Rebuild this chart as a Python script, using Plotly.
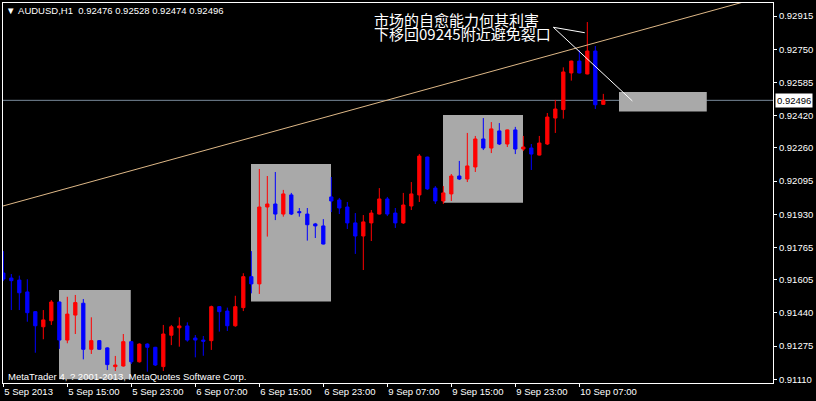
import plotly.graph_objects as go

# ---- data (AUDUSD H1) ----
open_ = [0.91638, 0.91613, 0.91603, 0.91544, 0.91446, 0.91371, 0.91401, 0.91494, 0.91305, 0.91429,
         0.91488, 0.91259, 0.91302, 0.91266, 0.91173, 0.91176, 0.91297, 0.91197, 0.91285, 0.91269,
         0.91173, 0.91329, 0.91366, 0.91375, 0.91315, 0.91305, 0.91302, 0.91471, 0.91449, 0.91376,
         0.91466, 0.91620, 0.91584, 0.91966, 0.91981, 0.91931, 0.92026, 0.91943, 0.91931, 0.91882,
         0.91872, 0.92016, 0.92001, 0.91966, 0.91887, 0.91822, 0.91887, 0.91931, 0.92006, 0.91936,
         0.91887, 0.91971, 0.92026, 0.92214, 0.92060, 0.91996, 0.92031, 0.92120, 0.92105, 0.92165,
         0.92304, 0.92259, 0.92344, 0.92279, 0.92349, 0.92254, 0.92259, 0.92224, 0.92279, 0.92408,
         0.92450, 0.92632, 0.92691, 0.92627, 0.92741, 0.92476]
high = [0.91747, 0.91633, 0.91625, 0.91607, 0.91449, 0.91454, 0.91504, 0.91496, 0.91520, 0.91529,
        0.91509, 0.91418, 0.91305, 0.91269, 0.91226, 0.91335, 0.91299, 0.91289, 0.91289, 0.91271,
        0.91380, 0.91380, 0.91418, 0.91393, 0.91330, 0.91325, 0.91476, 0.91473, 0.91466, 0.91525,
        0.91637, 0.91747, 0.92155, 0.92120, 0.92140, 0.92051, 0.92036, 0.91961, 0.91961, 0.91887,
        0.91906, 0.92115, 0.92011, 0.91991, 0.91936, 0.91926, 0.91951, 0.92060, 0.92016, 0.91961,
        0.92036, 0.92090, 0.92229, 0.92216, 0.92070, 0.92070, 0.92130, 0.92195, 0.92334, 0.92319,
        0.92408, 0.92388, 0.92383, 0.92351, 0.92364, 0.92319, 0.92279, 0.92319, 0.92433, 0.92498,
        0.92660, 0.92693, 0.92746, 0.92885, 0.92766, 0.92528]
low = [0.91598, 0.91454, 0.91454, 0.91396, 0.91242, 0.91309, 0.91380, 0.91261, 0.91289, 0.91335,
       0.91209, 0.91236, 0.91257, 0.91156, 0.91151, 0.91173, 0.91186, 0.91193, 0.91148, 0.91176,
       0.91151, 0.91280, 0.91272, 0.91297, 0.91219, 0.91227, 0.91256, 0.91347, 0.91350, 0.91371,
       0.91449, 0.91537, 0.91534, 0.91819, 0.91901, 0.91918, 0.91926, 0.91918, 0.91799, 0.91812,
       0.91780, 0.91941, 0.91931, 0.91857, 0.91733, 0.91653, 0.91797, 0.91929, 0.91921, 0.91862,
       0.91882, 0.91951, 0.91991, 0.92051, 0.91981, 0.91981, 0.91996, 0.92100, 0.92090, 0.92140,
       0.92249, 0.92234, 0.92274, 0.92264, 0.92229, 0.92244, 0.92150, 0.92222, 0.92274, 0.92334,
       0.92405, 0.92594, 0.92630, 0.92625, 0.92453, 0.92474]
close = [0.91608, 0.91600, 0.91540, 0.91441, 0.91376, 0.91405, 0.91494, 0.91305, 0.91434, 0.91491,
         0.91259, 0.91302, 0.91259, 0.91183, 0.91181, 0.91297, 0.91197, 0.91285, 0.91269, 0.91181,
         0.91335, 0.91371, 0.91375, 0.91305, 0.91305, 0.91299, 0.91471, 0.91446, 0.91376, 0.91471,
         0.91620, 0.91584, 0.91966, 0.91981, 0.91931, 0.92031, 0.91931, 0.91938, 0.91878, 0.91872,
         0.91782, 0.91996, 0.91961, 0.91887, 0.91822, 0.91892, 0.91936, 0.92006, 0.91931, 0.91887,
         0.91976, 0.92031, 0.92219, 0.92056, 0.91996, 0.92036, 0.92120, 0.92105, 0.92170, 0.92304,
         0.92259, 0.92354, 0.92279, 0.92349, 0.92254, 0.92264, 0.92229, 0.92284, 0.92413, 0.92453,
         0.92637, 0.92691, 0.92632, 0.92741, 0.92474, 0.92496]
bars = list(range(len(open_)))

x_tick_bars = [0, 8, 16, 24, 32, 40, 48, 56, 64, 72]
x_tick_labels = ["5 Sep 2013", "5 Sep 15:00", "5 Sep 23:00", "6 Sep 07:00", "6 Sep 15:00",
                 "6 Sep 23:00", "9 Sep 07:00", "9 Sep 15:00", "9 Sep 23:00", "10 Sep 07:00"]
y_tick_vals = [0.92915, 0.92750, 0.92585, 0.92420, 0.92260, 0.92095, 0.91930, 0.91765,
               0.91605, 0.91440, 0.91275, 0.91110]
y_tick_labels = ["%.5f" % v for v in y_tick_vals]

bid_price = close[-1]
note_lines = ["市场的自愈能力何其利害", "下移回09245附近避免裂口"]

# drawing objects (bar index, price)
gray_boxes = [(6.96, 15.93, 0.91554, 0.91110), (30.96, 40.96, 0.92180, 0.91496),
              (54.96, 64.96, 0.92423, 0.91987), (76.96, 87.93, 0.92537, 0.92440)]
trend_pts = [(-0.04, 0.91971), (96.21, 0.93025)]

W, H = 816, 401
ML, MR, MT, MB = 3, 43, 3, 18
PW, PH = W - ML - MR, H - MT - MB
FONT = "Liberation Sans, Arial, sans-serif"


def px(x):
    return (x - ML) / PW


def py(y):
    return (H - MB - y) / PH


fig = go.Figure()
fig.add_trace(go.Candlestick(
    x=bars, open=open_, high=high, low=low, close=close,
    increasing=dict(line=dict(color="#FF0000", width=1), fillcolor="#FF0000"),
    decreasing=dict(line=dict(color="#0000FF", width=1), fillcolor="#0000FF"),
    whiskerwidth=0, showlegend=False, hoverinfo="skip"))

shapes = []
for x0, x1, y0, y1 in gray_boxes:
    shapes.append(dict(type="rect", xref="x", yref="y", x0=x0, x1=x1, y0=y0, y1=y1,
                       fillcolor="#A9A9A9", line=dict(width=0), layer="below"))
shapes.append(dict(type="line", xref="paper", yref="y", x0=0, x1=1, y0=bid_price, y1=bid_price,
                   line=dict(color="#778899", width=1), layer="below"))
shapes.append(dict(type="line", xref="x", yref="y", x0=trend_pts[0][0], y0=trend_pts[0][1],
                   x1=trend_pts[1][0], y1=trend_pts[1][1], line=dict(color="#DEB887", width=1)))
shapes.append(dict(type="line", xref="x", yref="y", x0=68.75, y0=0.92859, x1=72.68, y1=0.92832,
                   line=dict(color="white", width=1)))
shapes.append(dict(type="line", xref="x", yref="y", x0=68.75, y0=0.92859, x1=78.63, y1=0.92493,
                   line=dict(color="white", width=1)))

annotations = [
    dict(xref="paper", yref="paper", x=px(4), y=py(11), xanchor="left", yanchor="middle",
         text="▼\u00a0AUDUSD,H1\u00a0\u00a0" + " ".join("%.5f" % v for v in
                                                        (open_[-1], high[-1], low[-1], close[-1])),
         showarrow=False, font=dict(family=FONT, size=9.5, color="white")),
    dict(xref="paper", yref="paper", x=px(6), y=py(376), xanchor="left", yanchor="middle",
         text="MetaTrader 4, ? 2001-2013, MetaQuotes Software Corp.",
         showarrow=False, font=dict(family=FONT, size=9.5, color="white")),
    dict(xref="paper", yref="paper", x=px(372), y=py(19), xanchor="left", yanchor="middle",
         text=note_lines[0], showarrow=False,
         font=dict(family="Noto Sans CJK SC", size=15, color="white")),
    dict(xref="paper", yref="paper", x=px(372), y=py(33.5), xanchor="left", yanchor="middle",
         text=note_lines[1], showarrow=False,
         font=dict(family="Noto Sans CJK SC", size=15, color="white")),
    dict(xref="paper", yref="y", x=1, y=bid_price, xanchor="left", yanchor="middle", xshift=2,
         text="%.5f" % bid_price, showarrow=False, bgcolor="white", borderpad=1,
         font=dict(family=FONT, size=9.5, color="black")),
]

fig.update_layout(
    width=W, height=H, margin=dict(l=ML, r=MR, t=MT, b=MB, pad=0, autoexpand=False),
    paper_bgcolor="black", plot_bgcolor="black", showlegend=False, hovermode=False,
    boxgap=0.42, shapes=shapes, annotations=annotations,
)
fig.update_xaxes(range=[-0.04, 96.21], tickmode="array", tickvals=x_tick_bars,
                 ticktext=x_tick_labels, ticks="outside", ticklen=3, tickcolor="white",
                 ticklabelposition="outside right",
                 showline=True, linecolor="white", linewidth=1, mirror=True,
                 showgrid=False, zeroline=False, rangeslider_visible=False,
                 tickfont=dict(family=FONT, size=9.5, color="white"))
fig.update_yaxes(range=[0.910916, 0.929796], side="right", tickmode="array",
                 tickvals=y_tick_vals, ticktext=y_tick_labels, ticks="outside", ticklen=3,
                 tickcolor="white", showline=True, linecolor="white", linewidth=1, mirror=True,
                 showgrid=False, zeroline=False,
                 tickfont=dict(family=FONT, size=9.5, color="white"))

fig.write_html("out.html", config={"displayModeBar": False},
               post_script="document.body.style.margin='0';document.body.style.background='black';")
